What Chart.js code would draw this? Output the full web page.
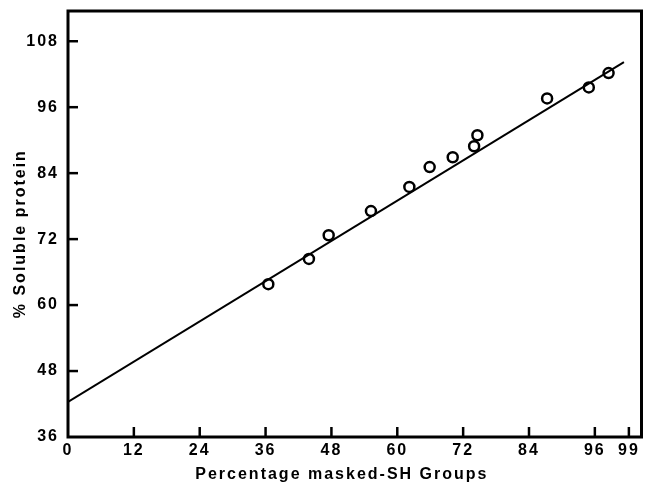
<!DOCTYPE html>
<html>
<head>
<meta charset="utf-8">
<script src="https://cdn.jsdelivr.net/npm/chart.js@4/dist/chart.umd.min.js"></script>
<style>
  html, body { margin: 0; padding: 0; background: #ffffff; }
  #wrap { width: 649px; height: 486px; }
</style>
</head>
<body>
<div id="wrap"><canvas id="c" width="649" height="486"></canvas></div>
<script>
// Measured points: percentage of masked -SH groups vs. percentage of soluble protein
const maskedSH = [36.5, 43.9, 47.5, 55.2, 62.2, 65.9, 70.1, 74.0, 74.6, 87.3, 94.9, 98.5];
const solubleProtein = [63.8, 68.4, 72.7, 77.1, 81.5, 85.1, 86.9, 88.9, 90.9, 97.6, 99.6, 102.2];

// Fitted straight line (end points)
const fitX = [0, 101.3];
const fitY = [42.4, 104.2];

// Axis ticks (the last x tick is labelled 99 at the end of the drawn scale)
const xTickValues = [0, 12, 24, 36, 48, 60, 72, 84, 96, 102.2];
const xTickLabels = ['0', '12', '24', '36', '48', '60', '72', '84', '96', '99'];
const yTickValues = [36, 48, 60, 72, 84, 96, 108];
const yTickLabels = ['36', '48', '60', '72', '84', '96', '108'];

const pointData = maskedSH.map((x, i) => ({ x: x, y: solubleProtein[i] }));
const lineData = fitX.map((x, i) => ({ x: x, y: fitY[i] }));

const FONT = "'Liberation Sans', Arial, sans-serif";

// Frame around the plot area plus short inward tick marks
const framePlugin = {
  id: 'frame',
  beforeDraw(chart) {
    chart.ctx.letterSpacing = '2px';
  },
  afterDraw(chart) {
    const { ctx, chartArea: a, scales } = chart;
    ctx.save();
    ctx.strokeStyle = '#000';
    ctx.lineWidth = 2.5;
    const tl = 10;
    scales.x.ticks.forEach(t => {
      const px = scales.x.getPixelForValue(t.value);
      if (px <= a.left + 2) return;
      ctx.beginPath();
      ctx.moveTo(px, a.bottom);
      ctx.lineTo(px, a.bottom - tl);
      ctx.stroke();
    });
    scales.y.ticks.forEach(t => {
      const py = scales.y.getPixelForValue(t.value);
      if (py >= a.bottom - 2) return;
      ctx.beginPath();
      ctx.moveTo(a.left, py);
      ctx.lineTo(a.left + tl, py);
      ctx.stroke();
    });
    ctx.lineWidth = 3;
    ctx.strokeRect(a.left, a.top, a.right - a.left, a.bottom - a.top);
    ctx.restore();
  }
};

new Chart(document.getElementById('c'), {
  type: 'scatter',
  data: {
    datasets: [
      {
        label: 'fit',
        type: 'line',
        data: lineData,
        borderColor: '#000',
        borderWidth: 2,
        pointRadius: 0,
        fill: false,
        tension: 0
      },
      {
        label: 'soluble protein',
        data: pointData,
        pointStyle: 'circle',
        pointRadius: 5,
        pointHoverRadius: 5,
        borderColor: '#000',
        borderWidth: 2.5,
        backgroundColor: '#ffffff'
      }
    ]
  },
  options: {
    responsive: false,
    animation: false,
    events: [],
    layout: { padding: { top: 11, right: 5, left: 0, bottom: 0 } },
    plugins: {
      legend: { display: false },
      tooltip: { enabled: false }
    },
    scales: {
      x: {
        type: 'linear',
        min: 0,
        max: 104.5,
        grid: { display: false, drawTicks: false },
        border: { display: false },
        afterBuildTicks: s => { s.ticks = xTickValues.map(v => ({ value: v })); },
        afterFit: s => { s.height = 49; s.paddingLeft = 0; s.paddingRight = 0; },
        ticks: {
          padding: 4,
          color: '#000',
          maxRotation: 0,
          autoSkip: false,
          font: { family: FONT, size: 16, weight: 'bold' },
          callback: (v, i) => xTickLabels[i]
        },
        title: {
          display: true,
          text: 'Percentage masked-SH Groups    ',
          color: '#000',
          font: { family: FONT, size: 16, weight: 'bold' },
          padding: { top: 0, bottom: 2 }
        }
      },
      y: {
        type: 'linear',
        min: 36,
        max: 113.5,
        grid: { display: false, drawTicks: false },
        border: { display: false },
        afterBuildTicks: s => { s.ticks = yTickValues.map(v => ({ value: v })); },
        afterFit: s => { s.width = 68; s.paddingTop = 0; s.paddingBottom = 0; },
        ticks: {
          padding: 9,
          color: '#000',
          autoSkip: false,
          font: { family: FONT, size: 16, weight: 'bold' },
          callback: (v, i) => yTickLabels[i]
        },
        title: {
          display: true,
          text: '% Soluble protein   ',
          color: '#000',
          font: { family: FONT, size: 16, weight: 'bold' },
          padding: { top: 11, bottom: 0 }
        }
      }
    }
  },
  plugins: [framePlugin]
});
</script>
</body>
</html>
